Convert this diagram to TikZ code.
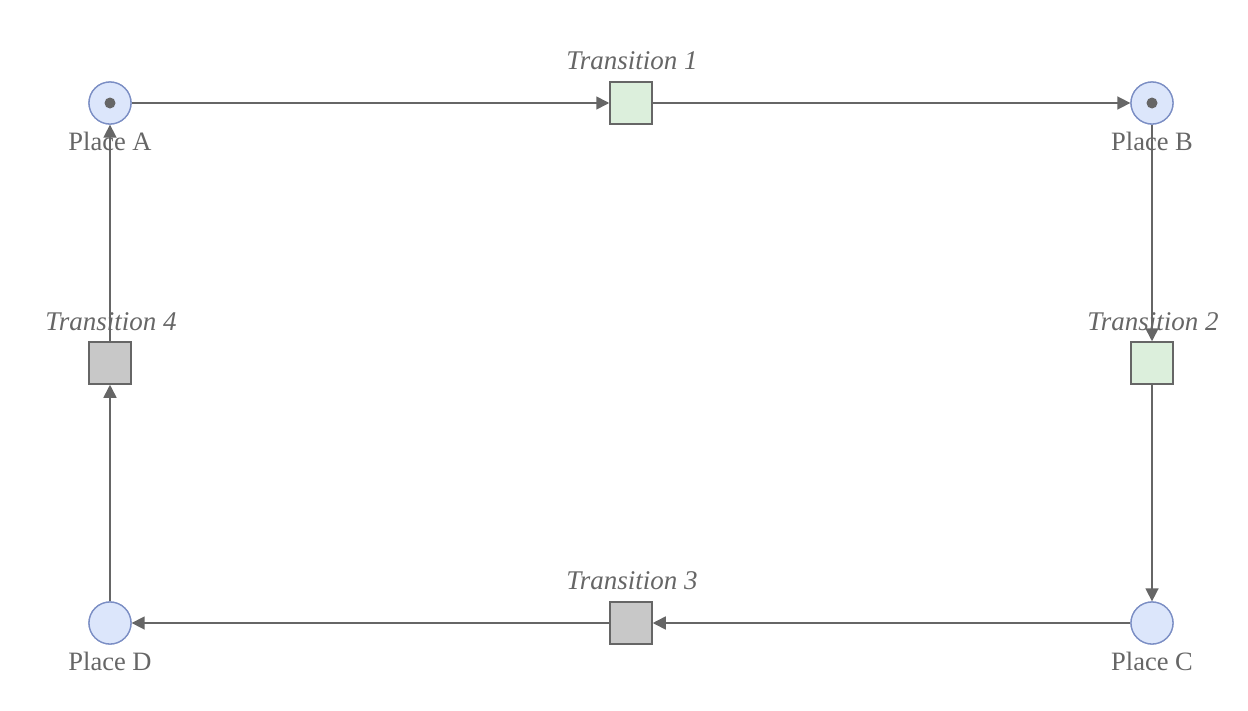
\documentclass[tikz,border=0pt]{standalone}
\usepackage{fontspec}
\setmainfont{Liberation Serif}
\usetikzlibrary{arrows.meta}
\definecolor{lin}{HTML}{666666}
\definecolor{pfill}{HTML}{DCE6FB}
\definecolor{pdraw}{HTML}{7B8EC4}
\definecolor{tgreen}{HTML}{DCEFDC}
\definecolor{tgrey}{HTML}{C8C8C8}
\definecolor{txt}{HTML}{666666}
\tikzset{
  place/.style={circle,draw=pdraw,fill=pfill,line width=1.3pt,minimum size=42pt,inner sep=0pt},
  token/.style={circle,fill=lin,minimum size=11pt,inner sep=0pt},
  trans/.style={rectangle,draw=lin,line width=1.5pt,minimum size=42pt,inner sep=0pt},
  enabled/.style={trans,fill=tgreen},
  disabled/.style={trans,fill=tgrey},
  plabel/.style={text=txt,font=\fontsize{26.5}{30}\selectfont,inner sep=0pt},
  tlabel/.style={text=txt,font=\fontsize{27}{30}\selectfont\itshape,inner sep=0pt},
  arc/.style={draw=lin,line width=1.6pt,-{Triangle[length=13pt,width=13pt]}},
}
\begin{document}
\begin{tikzpicture}[x=1pt,y=-1pt]
\useasboundingbox (0,0) rectangle (1248,710);
% labels (behind arcs)
\node[plabel] (la) at (110,141) {Place A};
\node[plabel] (lb) at (1152,141) {Place B};
\node[plabel] (lc) at (1152,661) {Place C};
\node[plabel] (ld) at (110,661) {Place D};
\node[tlabel] (l1) at (632,61) {Transition 1};
\node[tlabel] (l2) at (1153,322) {Transition 2};
\node[tlabel] (l3) at (632,581) {Transition 3};
\node[tlabel] (l4) at (111,322) {Transition 4};
% nodes
\path node[place] (A) at (110,103) {}
      node[place] (B) at (1152,103) {}
      node[place] (C) at (1152,623) {}
      node[place] (D) at (110,623) {}
      node[enabled] (T1) at (631,103) {}
      node[enabled] (T2) at (1152,363) {}
      node[disabled] (T3) at (631,623) {}
      node[disabled] (T4) at (110,363) {};
% arcs
\draw[arc] (A) -- (T1);
\draw[arc] (T1) -- (B);
\draw[arc] (B) -- (T2);
\draw[arc] (T2) -- (C);
\draw[arc] (C) -- (T3);
\draw[arc] (T3) -- (D);
\draw[arc] (D) -- (T4);
\draw[arc] (T4) -- (A);
% redraw nodes above arcs
\path node[place] at (A) {} node[place] at (B) {} node[place] at (C) {} node[place] at (D) {}
      node[enabled] at (T1) {} node[enabled] at (T2) {} node[disabled] at (T3) {} node[disabled] at (T4) {};
\node[token] (ta) at (A) {};
\node[token] (tb) at (B) {};
\end{tikzpicture}
\end{document}
